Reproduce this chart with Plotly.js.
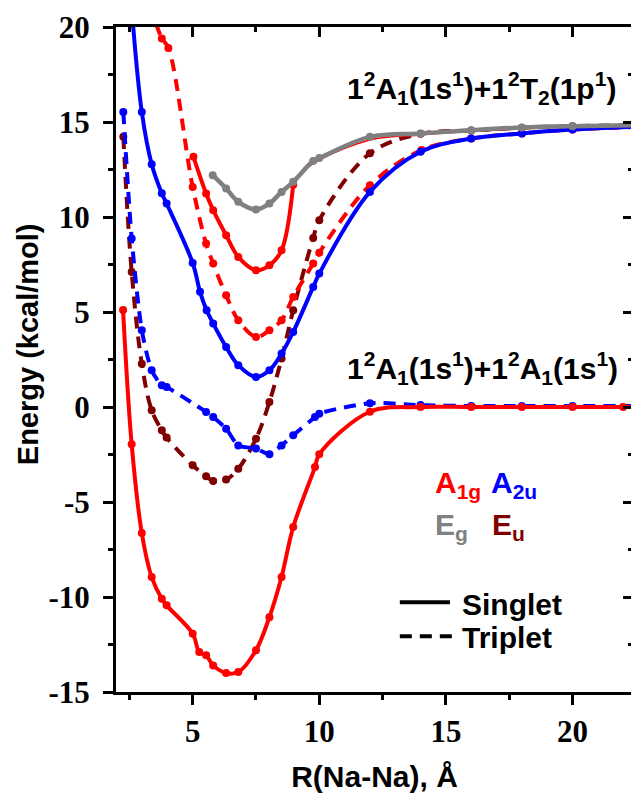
<!DOCTYPE html>
<html><head><meta charset="utf-8">
<script src="https://cdn.plot.ly/plotly-3.0.1.min.js"></script>
<style>html,body{margin:0;padding:0;overflow:hidden;background:#fff}#plot{width:634px;height:799px}</style>
</head><body><div id="plot"></div><script>
// A1g singlet (ground)
const R_A1g_S1 = [2.25, 2.59, 2.99, 3.38, 3.78, 3.97, 5.0, 5.26, 5.53, 5.81, 6.32, 6.8, 7.5, 8.03, 8.51, 8.97, 9.83, 10.0, 12, 14, 16, 18, 20, 22, 25];
const E_A1g_S1 = [5.1, -1.96, -6.63, -8.95, -10.09, -10.44, -11.93, -12.9, -13.07, -13.6, -14.0, -13.95, -12.8, -11.06, -8.95, -6.32, -3.16, -2.49, -0.25, 0.0, 0.0, 0.0, 0.0, 0.0, 0.0];
// A2u singlet
const R_A2u_S = [2.59, 2.99, 3.38, 3.78, 3.97, 5.0, 5.29, 5.55, 5.81, 6.32, 6.8, 7.5, 8.03, 8.51, 8.97, 9.76, 10.0, 12, 14, 16, 18, 20, 25];
const E_A2u_S = [21.0, 15.53, 12.78, 11.25, 10.71, 7.58, 6.06, 5.09, 4.39, 3.16, 2.2, 1.58, 1.93, 2.81, 3.95, 6.32, 7.02, 11.32, 13.43, 14.13, 14.4, 14.6, 14.85];
// A1g triplet
const R_A1g_T = [3.55, 3.78, 4.04, 5.0, 5.53, 5.81, 6.32, 6.8, 7.5, 8.03, 8.51, 8.97, 9.76, 10.0, 12, 14.04, 16, 18, 20, 25];
const E_A1g_T = [20.2, 19.4, 18.9, 11.58, 8.6, 7.55, 5.88, 4.57, 3.69, 4.04, 4.57, 5.79, 7.55, 8.12, 11.67, 13.52, 14.13, 14.4, 14.6, 14.85];
// Eu triplet
const R_Eu_T = [2.26, 2.59, 2.99, 3.38, 3.78, 3.97, 5.0, 5.53, 5.81, 6.32, 6.8, 7.5, 8.03, 8.51, 8.97, 9.76, 10.0, 12, 14, 16, 18, 20, 25];
const E_Eu_T = [14.22, 7.11, 2.28, -0.17, -1.23, -1.61, -3.07, -3.65, -3.9, -3.82, -3.25, -1.67, 0.26, 2.55, 5.09, 8.9, 9.83, 13.35, 14.38, 14.55, 14.7, 14.78, 14.86];
// A2u triplet
const R_A2u_T = [2.26, 2.59, 2.99, 3.38, 3.78, 3.97, 5.53, 5.81, 6.32, 6.8, 7.5, 8.03, 8.51, 8.97, 9.83, 10.0, 12, 14, 16, 18, 20, 25];
const E_A2u_T = [15.53, 8.87, 4.04, 1.93, 1.14, 1.05, -0.26, -0.53, -1.14, -2.02, -2.19, -2.49, -2.02, -1.49, -0.53, -0.35, 0.2, 0.1, 0.05, 0.05, 0.05, 0.05];
// Eg singlet
const R_Eg_S = [5.79, 6.32, 6.8, 7.5, 8.03, 8.51, 8.97, 9.76, 10.0, 12, 14, 16, 18, 20, 25];
const E_Eg_S = [12.2, 11.5, 10.8, 10.4, 10.71, 11.32, 11.85, 12.95, 13.1, 14.22, 14.4, 14.57, 14.71, 14.78, 14.88];
// A1g singlet (excited), thick part
const R_A1g_S2 = [5.03, 5.53, 5.81, 6.32, 6.8, 7.5, 8.03, 8.51, 8.97];
const E_A1g_S2 = [13.17, 11.24, 10.36, 9.04, 7.9, 7.2, 7.46, 8.25, 11.7];
// A1g singlet (excited), thin continuation
const R_A1g_S2b = [8.97, 9.5, 10.0, 12, 14, 16, 18, 20, 25];
const E_A1g_S2b = [11.7, 12.55, 13.0, 14.05, 14.32, 14.5, 14.65, 14.75, 14.83];
// tick labels (hyphen minus as in the reference)
const Y_TICK_VALS = [-15, -10, -5, 0, 5, 10, 15, 20];
const Y_TICK_TEXT = ['-15', '-10', '-5', '0', '5', '10', '15', '20'];
const X_TICK_VALS = [5, 10, 15, 20];
const X_TICK_TEXT = ['5', '10', '15', '20'];

const RED = '#FF0000', BLUE = '#0000FF', GRAY = '#808080', DRED = '#800000';
const DASH = '12px,8px';
function tr(x, y, color, dash, width, markers, sm) {
  return {x: x, y: y, type: 'scatter', mode: markers ? 'lines+markers' : 'lines',
    line: {color: color, width: width, dash: dash, shape: 'spline', smoothing: sm || 1},
    marker: {color: color, size: 8}, showlegend: false, hoverinfo: 'x+y'};
}
const data = [
  tr(R_Eu_T, E_Eu_T, DRED, DASH, 4, true),
  tr(R_A2u_T, E_A2u_T, BLUE, DASH, 4, true, 0.7),
  tr(R_A1g_S1, E_A1g_S1, RED, 'solid', 4, true),
  tr(R_A1g_T, E_A1g_T, RED, DASH, 4, true),
  tr(R_A2u_S, E_A2u_S, BLUE, 'solid', 4, true),
  tr(R_A1g_S2b, E_A1g_S2b, RED, 'solid', 1.5, false),
  tr(R_A1g_S2, E_A1g_S2, RED, 'solid', 4, true),
  tr(R_Eg_S, E_Eg_S, GRAY, 'solid', 4.5, true),
  {x: [null], y: [null], xaxis: 'x2', yaxis: 'y2', type: 'scatter', showlegend: false, hoverinfo: 'skip'}
];
const bold = a => a.map(s => '<b>' + s + '</b>');
const serif = () => ({family: 'Liberation Serif', size: 31, color: '#000', weight: 'bold'});
const sans = (s, c) => ({family: 'Liberation Sans', size: s, color: c || '#000', weight: 'bold'});
const xr = [1.971, 22.39];
const layout = {
  width: 634, height: 799,
  margin: {l: 116, r: 1, t: 27, b: 107},
  paper_bgcolor: '#fff', plot_bgcolor: '#fff',
  showlegend: false,
  font: serif(),
  xaxis: {range: xr, tickmode: 'array', tickvals: X_TICK_VALS, ticktext: bold(X_TICK_TEXT), ticks: 'outside', ticklen: 10, tickwidth: 3, tickcolor: '#000',
    minor: {dtick: 2.5, tick0: 0, ticks: 'outside', ticklen: 5, tickwidth: 3, tickcolor: '#000'},
    showline: true, linewidth: 3, linecolor: '#000', mirror: true, showgrid: false, zeroline: false,
    tickfont: serif(), title: {text: 'R(Na-Na), Å', font: sans(30), standoff: 18}},
  yaxis: {range: [-15, 20], tickmode: 'array', tickvals: Y_TICK_VALS, ticktext: bold(Y_TICK_TEXT), ticks: 'outside', ticklen: 10, tickwidth: 3, tickcolor: '#000',
    minor: {dtick: 2.5, tick0: 0, ticks: 'outside', ticklen: 5, tickwidth: 3, tickcolor: '#000'},
    showline: true, linewidth: 3, linecolor: '#000', mirror: true, showgrid: false, zeroline: false,
    tickfont: serif(), ticklabelstandoff: 7},
  xaxis2: {overlaying: 'x', matches: 'x', side: 'top', range: xr, tick0: 0, dtick: 5, ticks: 'inside', ticklen: 10, tickwidth: 3, tickcolor: '#000',
    minor: {dtick: 2.5, ticks: 'inside', ticklen: 5, tickwidth: 3, tickcolor: '#000'},
    showticklabels: false, showline: false, showgrid: false, zeroline: false},
  yaxis2: {overlaying: 'y', side: 'right', range: [-15, 20], tick0: 0, dtick: 5, ticks: 'inside', ticklen: 10, tickwidth: 3, tickcolor: '#000',
    minor: {dtick: 2.5, ticks: 'inside', ticklen: 5, tickwidth: 3, tickcolor: '#000'},
    showticklabels: false, showline: false, showgrid: false, zeroline: false},
  shapes: [
    {type: 'line', xref: 'paper', yref: 'paper', x0: 0.549, x1: 0.646, y0: 0.1349, y1: 0.1349, line: {color: '#000', width: 4}},
    {type: 'line', xref: 'paper', yref: 'paper', x0: 0.549, x1: 0.656, y0: 0.0838, y1: 0.0838, line: {color: '#000', width: 4, dash: DASH}}
  ],
  annotations: [
    {text: 'Energy (kcal/mol)', textangle: -90, xref: 'paper', yref: 'paper', x: -0.1702, y: 0.523, xanchor: 'center', yanchor: 'middle', showarrow: false, font: sans(29)},
    {text: '1<sup>2</sup>A<sub>1</sub>(1s<sup>1</sup>)+1<sup>2</sup>T<sub>2</sub>(1p<sup>1</sup>)', xref: 'paper', yref: 'paper', x: 0.443, y: 0.909, xanchor: 'left', yanchor: 'middle', showarrow: false, font: sans(30)},
    {text: '1<sup>2</sup>A<sub>1</sub>(1s<sup>1</sup>)+1<sup>2</sup>A<sub>1</sub>(1s<sup>1</sup>)', xref: 'paper', yref: 'paper', x: 0.443, y: 0.4868, xanchor: 'left', yanchor: 'middle', showarrow: false, font: sans(30)},
    {text: 'A<sub>1g</sub>', xref: 'paper', yref: 'paper', x: 0.613, y: 0.3123, xanchor: 'left', yanchor: 'middle', showarrow: false, font: sans(30, RED)},
    {text: 'A<sub>2u</sub>', xref: 'paper', yref: 'paper', x: 0.7215, y: 0.3123, xanchor: 'left', yanchor: 'middle', showarrow: false, font: sans(30, BLUE)},
    {text: 'E<sub>g</sub>', xref: 'paper', yref: 'paper', x: 0.613, y: 0.2492, xanchor: 'left', yanchor: 'middle', showarrow: false, font: sans(30, GRAY)},
    {text: 'E<sub>u</sub>', xref: 'paper', yref: 'paper', x: 0.7234, y: 0.2492, xanchor: 'left', yanchor: 'middle', showarrow: false, font: sans(30, DRED)},
    {text: 'Singlet', xref: 'paper', yref: 'paper', x: 0.6654, y: 0.1319, xanchor: 'left', yanchor: 'middle', showarrow: false, font: sans(30)},
    {text: 'Triplet', xref: 'paper', yref: 'paper', x: 0.6654, y: 0.0823, xanchor: 'left', yanchor: 'middle', showarrow: false, font: sans(30)}
  ]
};
Plotly.newPlot('plot', data, layout, {displayModeBar: false, staticPlot: true});
</script></body></html>
